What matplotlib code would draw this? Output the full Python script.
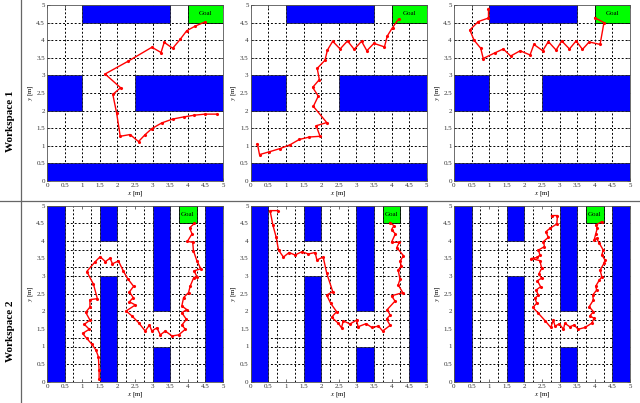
import matplotlib
matplotlib.use("Agg")
import matplotlib.pyplot as plt
from matplotlib.patches import Rectangle
from matplotlib.lines import Line2D

plt.rcParams['font.family'] = ['Liberation Serif', 'DejaVu Serif']
plt.rcParams['mathtext.fontset'] = 'stix'

# ---------------- data ----------------
tick_vals = [0, 0.5, 1, 1.5, 2, 2.5, 3, 3.5, 4, 4.5, 5]
tick_labels = ['0', '0.5', '1', '1.5', '2', '2.5', '3', '3.5', '4', '4.5', '5']

row_labels = ['Workspace 1', 'Workspace 2']

# workspace 1 obstacles (x0, y0, w, h) and goal
ws1_obstacles = [(1, 4.5, 2.5, 0.5), (0, 2, 1, 1), (2.5, 2, 2.5, 1), (0, 0, 5, 0.5)]
ws1_goal = (4, 4.5, 1, 0.5)
ws1_grid_x = [0.5, 1, 1.5, 2, 2.5, 3, 3.5, 4, 4.5]
ws1_grid_y = [0.5, 1, 1.5, 2, 2.5, 3, 3.5, 4, 4.5]

# workspace 2 obstacles and goal
ws2_obstacles = [(0, 0, 0.5, 5), (1.5, 4, 0.5, 1), (1.5, 0, 0.5, 3),
                 (3, 2, 0.5, 3), (3, 0, 0.5, 1), (4.5, 0, 0.5, 5)]
ws2_goal = (3.75, 4.5, 0.5, 0.5)
ws2_grid_x = [0.5, 0.75, 1.25, 1.5, 2, 2.25, 2.75, 3, 3.5, 3.75, 4.25, 4.5]
ws2_grid_y = [0.5, 1, 1.25, 1.75, 2, 2.5, 3, 3.25, 3.75, 4, 4.5]

# trajectories
p11_x = [4.82, 4.49, 4.19, 3.88, 3.57, 3.26, 2.98, 2.79, 2.60, 2.36, 2.08, 1.98, 1.87, 2.09, 1.65,
         2.30, 2.98, 3.24, 3.33, 3.57, 3.78, 3.97, 4.21, 4.49]
p11_y = [1.90, 1.90, 1.87, 1.82, 1.76, 1.65, 1.49, 1.32, 1.12, 1.32, 1.27, 1.92, 2.46, 2.65, 3.04,
         3.40, 3.80, 3.65, 3.94, 3.77, 4.02, 4.27, 4.40, 4.52]

p12_x = [0.19, 0.25, 0.53, 0.83, 1.12, 1.38, 1.67, 1.97, 1.86, 2.16, 1.78, 1.92, 1.76, 1.95, 1.89,
         2.11, 2.18, 2.33, 2.54, 2.75, 2.94, 3.15, 3.30, 3.50, 3.80, 3.88, 4.03, 4.20]
p12_y = [1.06, 0.75, 0.83, 0.92, 1.03, 1.18, 1.25, 1.27, 1.57, 1.66, 2.12, 2.41, 2.66, 2.88, 3.20,
         3.43, 3.72, 3.97, 3.75, 3.98, 3.74, 3.97, 3.70, 3.91, 3.81, 4.12, 4.36, 4.60]

p13_x = [0.98, 0.98, 0.69, 0.45, 0.57, 0.76, 0.83, 1.16, 1.40, 1.61, 1.88, 2.16, 2.27, 2.52, 2.68,
         2.90, 3.06, 3.28, 3.47, 3.65, 3.84, 4.15, 4.26, 4.00]
p13_y = [4.90, 4.63, 4.53, 4.29, 4.00, 3.77, 3.48, 3.64, 3.75, 3.55, 3.70, 3.58, 3.88, 3.70, 3.96,
         3.72, 3.98, 3.75, 3.98, 3.74, 3.95, 3.88, 4.50, 4.64]

p21_x = [1.48, 1.48, 1.46, 1.39, 1.27, 1.13, 1.01, 1.20, 1.06, 1.22, 1.10, 1.22, 1.22, 1.43, 1.32,
         1.13, 1.37, 1.51, 1.66, 1.79, 1.86, 2.03, 2.17, 2.29, 2.46, 2.34, 2.45, 2.34, 2.51, 2.25,
         2.41, 2.60, 2.79, 2.91, 2.98, 3.12, 3.22, 3.36, 3.55, 3.74, 3.93, 3.83, 3.96, 3.83, 3.97,
         3.83, 3.88, 4.02, 4.07, 4.17, 4.26, 4.18, 4.37, 4.26, 4.16, 4.14, 3.99, 4.12, 4.05, 4.19]
p21_y = [0.09, 0.33, 0.71, 0.90, 1.07, 1.23, 1.37, 1.49, 1.63, 1.75, 1.97, 2.12, 2.33, 2.36, 2.77,
         3.13, 3.41, 3.55, 3.41, 3.51, 3.35, 3.43, 3.14, 2.93, 2.71, 2.55, 2.39, 2.27, 2.18, 2.01,
         1.87, 1.68, 1.44, 1.61, 1.44, 1.53, 1.33, 1.44, 1.30, 1.33, 1.49, 1.61, 1.77, 1.96, 2.05,
         2.15, 2.39, 2.53, 2.72, 2.96, 2.98, 3.15, 3.21, 3.43, 3.72, 3.96, 3.99, 4.20, 4.37, 4.50]

p22_x = [0.77, 0.55, 0.63, 0.72, 0.79, 0.93, 1.09, 1.26, 1.45, 1.64, 1.83, 1.88, 2.06, 2.16, 2.33,
         2.16, 2.27, 2.44, 2.30, 2.49, 2.58, 2.63, 2.82, 3.01, 3.05, 3.28, 3.44, 3.63, 3.75, 3.96,
         3.86, 3.96, 3.88, 4.10, 4.00, 4.32, 4.19, 4.24, 4.19, 4.28, 4.24, 4.34, 4.15, 4.22, 4.00,
         4.11, 4.00, 4.07, 3.96]
p22_y = [4.86, 4.86, 4.45, 4.12, 3.74, 3.54, 3.67, 3.60, 3.69, 3.63, 3.67, 3.46, 3.54, 3.08, 2.56,
         2.46, 2.23, 1.99, 1.83, 1.66, 1.53, 1.73, 1.64, 1.75, 1.56, 1.65, 1.54, 1.58, 1.44, 1.60,
         1.78, 1.89, 2.05, 2.29, 2.44, 2.53, 2.75, 2.91, 3.17, 3.29, 3.42, 3.58, 3.81, 3.96, 3.96,
         4.20, 4.32, 4.43, 4.52]

p23_x = [2.77, 2.94, 2.92, 2.73, 2.61, 2.68, 2.54, 2.57, 2.40, 2.44, 2.37, 2.19, 2.44, 2.49, 2.41,
         2.49, 2.37, 2.46, 2.33, 2.40, 2.30, 2.35, 2.24, 2.40, 2.59, 2.75, 2.82, 2.87, 2.99, 3.11,
         3.15, 3.29, 3.41, 3.53, 3.72, 3.91, 3.98, 3.86, 3.96, 3.84, 3.96, 3.94, 4.05, 4.03, 4.13,
         4.20, 4.15, 4.26, 4.29, 4.20, 4.24, 4.13, 4.05, 3.98, 4.03, 4.07, 4.03, 4.20]
p23_y = [4.72, 4.72, 4.48, 4.36, 4.26, 4.10, 3.98, 3.84, 3.74, 3.60, 3.53, 3.50, 3.44, 3.22, 3.06,
         2.94, 2.87, 2.70, 2.60, 2.46, 2.37, 2.23, 2.11, 1.94, 1.73, 1.54, 1.75, 1.58, 1.64, 1.49,
         1.66, 1.56, 1.61, 1.49, 1.54, 1.66, 1.80, 1.87, 1.99, 2.13, 2.32, 2.46, 2.60, 2.72, 2.89,
         2.98, 3.17, 3.36, 3.46, 3.60, 3.74, 3.93, 4.07, 4.02, 4.21, 4.36, 4.45, 4.55]

paths = [[(p11_x, p11_y), (p12_x, p12_y), (p13_x, p13_y)],
         [(p21_x, p21_y), (p22_x, p22_y), (p23_x, p23_y)]]
workspaces = [(ws1_obstacles, ws1_goal, ws1_grid_x, ws1_grid_y),
              (ws2_obstacles, ws2_goal, ws2_grid_x, ws2_grid_y)]

# ---------------- figure ----------------
W, H = 640, 403
fig = plt.figure(figsize=(W / 100, H / 100), dpi=100)

col_left = [47, 250.7, 454]
row_top = [5, 205.7]
size = 176

for r in range(2):
    obstacles, goal, gx, gy = workspaces[r]
    for c in range(3):
        ax = fig.add_axes([col_left[c] / W, (H - row_top[r] - size) / H, size / W, size / H])
        ax.set_xlim(0, 5)
        ax.set_ylim(0, 5)
        for v in gx:
            ax.axvline(v, color='black', lw=0.7, ls=(0, (2, 2)), zorder=1)
        for v in gy:
            ax.axhline(v, color='black', lw=0.7, ls=(0, (2, 2)), zorder=1)
        for (x0, y0, w, h) in obstacles:
            ax.add_patch(Rectangle((x0, y0), w, h, facecolor='#0000ff', edgecolor='#202020',
                                   lw=0.5, zorder=2))
        ax.add_patch(Rectangle(goal[:2], goal[2], goal[3], facecolor='#00ff00', edgecolor='black',
                               lw=0.6, zorder=2))
        ax.text(goal[0] + goal[2] / 2, goal[1] + goal[3] / 2, 'Goal', ha='center', va='center',
                fontsize=5, zorder=3)
        px, py = paths[r][c]
        ax.plot(px, py, color='#ff0000', lw=1.0, marker='.', markersize=2.5, zorder=4)
        ax.set_xticks(tick_vals)
        ax.set_xticklabels(tick_labels)
        ax.set_yticks(tick_vals)
        ax.set_yticklabels(tick_labels)
        ax.tick_params(labelsize=5, direction='in', length=2, width=0.5, pad=1.5,
                       top=True, right=True, colors='#333333')
        ax.set_xlabel('$x$ [m]', fontsize=5, labelpad=1)
        ax.set_ylabel('$y$ [m]', fontsize=5, labelpad=1)
        for s in ax.spines.values():
            s.set_linewidth(0.6)
            s.set_color('#555555')

# row labels
label_centers = [121, 331]
for r in range(2):
    fig.text(11 / W, 1 - label_centers[r] / H, row_labels[r], rotation=90, ha='center',
             va='center', fontsize=8, fontweight='bold')

# separator lines
fig.add_artist(Line2D([21 / W, 21 / W], [0, 1], transform=fig.transFigure, color='#666666', lw=0.9))
fig.add_artist(Line2D([0, 1], [1 - 201 / H, 1 - 201 / H], transform=fig.transFigure,
                      color='#666666', lw=0.9))

fig.savefig('out.png', dpi=100)
